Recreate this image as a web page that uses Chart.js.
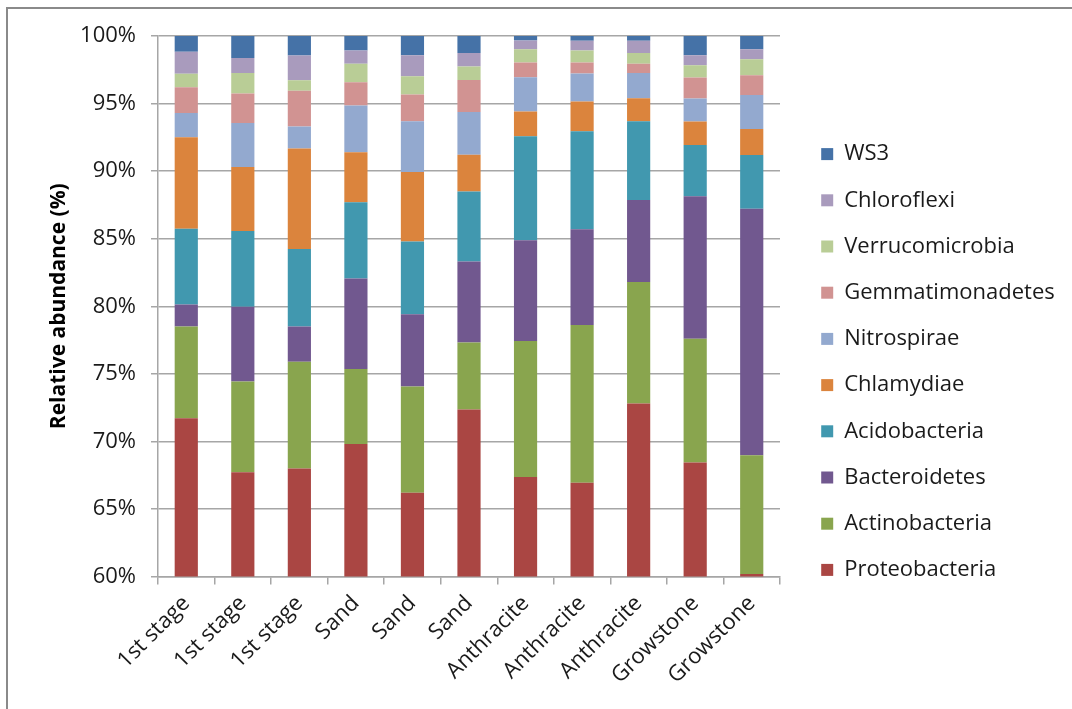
<!DOCTYPE html>
<html lang="en">
<head>
    <meta charset="UTF-8">
    <title>Relative abundance</title>
    <script src="https://cdn.jsdelivr.net/npm/chart.js"></script>
    <style>
        body { margin: 0; background: #fff; overflow: hidden; }
        #frame { position: absolute; left: 6px; top: 7px; width: 2000px; height: 2000px; border: 2px solid #8a8a8a; }
        #wrap { position: absolute; left: 0; top: 0; width: 1072px; height: 709px; }
    </style>
</head>
<body>
    <div id="frame"></div>
    <div id="wrap"><canvas id="chart" width="1072" height="709"></canvas></div>

    <script>
        const categories = ['1st stage', '1st stage', '1st stage', 'Sand', 'Sand', 'Sand',
            'Anthracite', 'Anthracite', 'Anthracite', 'Growstone', 'Growstone'];

        // values in %, bottom of the stack first
        const proteobacteria   = [71.72, 67.72, 67.99, 69.81, 66.19, 72.36, 67.37, 66.93, 72.80, 68.43, 60.19];
        const actinobacteria   = [6.78, 6.71, 7.90, 5.54, 7.88, 4.96, 10.05, 11.68, 9.00, 9.16, 8.79];
        const bacteroidetes    = [1.63, 5.53, 2.61, 6.71, 5.33, 6.00, 7.46, 7.08, 6.07, 10.55, 18.24];
        const acidobacteria    = [5.61, 5.61, 5.74, 5.63, 5.40, 5.18, 7.70, 7.26, 5.82, 3.80, 3.98];
        const chlamydiae       = [6.76, 4.74, 7.43, 3.71, 5.14, 2.72, 1.83, 2.20, 1.71, 1.73, 1.92];
        const nitrospirae      = [1.81, 3.26, 1.63, 3.45, 3.75, 3.16, 2.54, 2.07, 1.87, 1.70, 2.52];
        const gemmatimonadetes = [1.89, 2.17, 2.64, 1.73, 1.98, 2.37, 1.09, 0.82, 0.67, 1.56, 1.46];
        const verrucomicrobia  = [1.00, 1.53, 0.79, 1.36, 1.36, 0.99, 0.98, 0.89, 0.81, 0.91, 1.18];
        const chloroflexi      = [1.63, 1.11, 1.83, 0.99, 1.55, 1.01, 0.65, 0.71, 0.89, 0.74, 0.74];
        const ws3              = [1.17, 1.62, 1.44, 1.07, 1.42, 1.25, 0.33, 0.36, 0.36, 1.42, 0.98];

        const yTicks = [60, 65, 70, 75, 80, 85, 90, 95, 100];

        const series = [
            ['Proteobacteria', proteobacteria, '#aa4643'],
            ['Actinobacteria', actinobacteria, '#89a54e'],
            ['Bacteroidetes', bacteroidetes, '#71588f'],
            ['Acidobacteria', acidobacteria, '#4198af'],
            ['Chlamydiae', chlamydiae, '#db843d'],
            ['Nitrospirae', nitrospirae, '#93a9cf'],
            ['Gemmatimonadetes', gemmatimonadetes, '#d19392'],
            ['Verrucomicrobia', verrucomicrobia, '#b9cd96'],
            ['Chloroflexi', chloroflexi, '#a99bbd'],
            ['WS3', ws3, '#4572a7'],
        ];

        const font = 'Open Sans';
        const gridColor = '#a6a6a6';

        // legend sits a bit further right than chart.js puts it
        const legendTweak = {
            id: 'legendTweak',
            afterInit(chart) {
                const lg = chart.legend;
                const fit = lg.fit;
                lg.fit = function () { fit.call(this); this.width = 292; };
                const draw = lg.draw;
                lg.draw = function (area) {
                    this.ctx.save();
                    this.ctx.translate(17, 1);
                    draw.call(this, area);
                    this.ctx.restore();
                };
            }
        };

        const ctx = document.getElementById('chart').getContext('2d');
        const chart = new Chart(ctx, {
            type: 'bar',
            data: {
                labels: categories,
                datasets: series.map(([label, data, color]) => ({
                    label: label,
                    data: data,
                    backgroundColor: color,
                    borderWidth: 0,
                    barPercentage: 0.41,
                    categoryPercentage: 1,
                })),
            },
            options: {
                responsive: false,
                animation: false,
                layout: { padding: { left: 42, top: 36, right: 0, bottom: 23 } },
                plugins: {
                    tooltip: { enabled: false },
                    legend: {
                        position: 'right',
                        reverse: true,
                        labels: {
                            boxWidth: 12,
                            boxHeight: 12,
                            padding: 24.2,
                            color: '#1a1a1a',
                            font: { family: font, size: 22 },
                        },
                    },
                },
                scales: {
                    x: {
                        stacked: true,
                        grid: { drawOnChartArea: false, drawTicks: true, tickLength: 8, color: gridColor, lineWidth: 1.5 },
                        border: { color: gridColor, width: 1.5 },
                        ticks: {
                            minRotation: 45, maxRotation: 45, padding: 6,
                            color: '#1a1a1a',
                            font: { family: font, size: 22 },
                        },
                        afterFit: (s) => { s.height = 109.5; },
                    },
                    y: {
                        stacked: true,
                        min: 60,
                        max: 100,
                        afterBuildTicks: (s) => { s.ticks = yTicks.map(v => ({ value: v })); },
                        grid: { color: gridColor, lineWidth: 1.5, tickLength: 7 },
                        border: { color: gridColor, width: 1.5 },
                        ticks: {
                            padding: 15,
                            color: '#1a1a1a',
                            font: { family: font, size: 22 },
                            callback: (v) => v + '%',
                        },
                        title: {
                            display: true,
                            text: 'Relative abundance (%)',
                            color: '#000',
                            font: { family: font, size: 21, weight: 'bold' },
                        },
                        afterFit: (s) => { s.width = 116; },
                    },
                },
            },
            plugins: [legendTweak],
        });
    </script>
</body>
</html>
